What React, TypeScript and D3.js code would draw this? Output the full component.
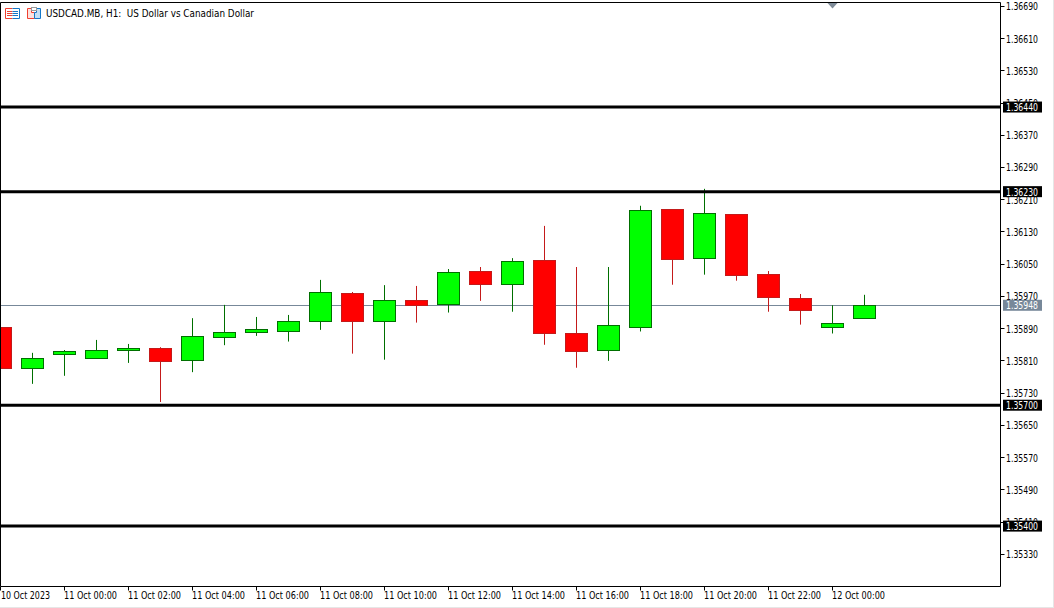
import * as d3 from 'd3';

const WIDTH = 1054;
const HEIGHT = 608;
const FRAME = { left: 1, top: 2, right: 1000.5, bottom: 586.5 };

const SYMBOL_TITLE = 'USDCAD.MB, H1:  US Dollar vs Canadian Dollar';

// one entry per hour, first bar is 10 Oct 22:00
const OPEN = [
  1.35894, 1.35791, 1.35827, 1.35815, 1.35835, 1.35841, 1.3581, 1.35868, 1.3588, 1.35883,
  1.35908, 1.35978, 1.35908, 1.3596, 1.3595, 1.36032, 1.36, 1.3606, 1.35879, 1.35836,
  1.35893, 1.36186, 1.36064, 1.36174, 1.36025, 1.35965, 1.35893, 1.35916,
];
const HIGH = [
  1.35894, 1.3583, 1.35837, 1.35862, 1.35852, 1.35844, 1.35916, 1.35949, 1.35919, 1.35924,
  1.36011, 1.35981, 1.35998, 1.35996, 1.36038, 1.36043, 1.36065, 1.36145, 1.36043, 1.36043,
  1.36195, 1.36186, 1.36237, 1.36174, 1.36033, 1.35976, 1.35948, 1.35974,
];
const LOW = [
  1.35791, 1.35753, 1.35773, 1.35815, 1.35805, 1.35708, 1.35782, 1.35849, 1.35872, 1.35858,
  1.35887, 1.35828, 1.35813, 1.35905, 1.3593, 1.35959, 1.35932, 1.3585, 1.35793, 1.3581,
  1.35883, 1.35999, 1.36024, 1.36009, 1.35932, 1.359, 1.35878, 1.35916,
];
const CLOSE = [
  1.35791, 1.35816, 1.35834, 1.35836, 1.35841, 1.35808, 1.35871, 1.3588, 1.35888, 1.35908,
  1.3598, 1.35908, 1.3596, 1.35948, 1.3603, 1.36, 1.36057, 1.35878, 1.35833, 1.35898,
  1.36184, 1.36061, 1.36176, 1.36022, 1.35967, 1.35935, 1.35903, 1.35948,
];

const PRICE_TICKS = [
  1.3669, 1.3661, 1.3653, 1.3645, 1.3637, 1.3629, 1.3621, 1.3613, 1.3605, 1.3597, 1.3589,
  1.3581, 1.3573, 1.3565, 1.3557, 1.3549, 1.3541, 1.3533,
];
const LEVELS = [1.3644, 1.3623, 1.357, 1.354];
const LAST_PRICE = 1.35948;

// a label sits under every second bar
const TIME_LABELS = [
  '10 Oct 2023', '11 Oct 00:00', '11 Oct 02:00', '11 Oct 04:00', '11 Oct 06:00',
  '11 Oct 08:00', '11 Oct 10:00', '11 Oct 12:00', '11 Oct 14:00', '11 Oct 16:00',
  '11 Oct 18:00', '11 Oct 20:00', '11 Oct 22:00', '12 Oct 00:00',
];

const UP_FILL = '#00ff00';
const UP_LINE = '#006f00';
const DOWN_FILL = '#ff0000';
const DOWN_LINE = '#c41a1a';
const LAST_COLOR = '#778899';
const ICON_RED = '#f04030';
const ICON_BLUE = '#1478c8';
const FONT = '"DejaVu Sans Condensed", "DejaVu Sans", sans-serif';

const fmt = d3.format('.5f');

const xScale = d3.scaleLinear().domain([0, OPEN.length - 1]).range([0.5, 864.5]);
const yScale = d3
  .scaleLinear()
  .domain([PRICE_TICKS[0], PRICE_TICKS[PRICE_TICKS.length - 1]])
  .range([6.3, 554.3]);

const snap = (v: number) => Math.round(v - 0.5) + 0.5;

const PriceText = ({ y, fill, label }: { y: number; fill: string; label: string }) => (
  <text
    x={1006}
    y={y + 4}
    fontFamily={FONT}
    fontSize={11}
    fill={fill}
    textLength={32}
    lengthAdjust="spacingAndGlyphs"
  >
    {label}
  </text>
);

const Icons = () => (
  <g fill="none" strokeWidth={1}>
    {/* first icon, left half red, right half blue */}
    <path d="M12.5 8.5H5.5V18.5H12.5" stroke={ICON_RED} />
    <path d="M7 11.5H12.5M7 13.5H12.5M7 15.5H12.5" stroke={ICON_RED} />
    <path d="M12.5 8.5H19.5V18.5H12.5" stroke={ICON_BLUE} />
    <path d="M12.5 11.5H18M12.5 13.5H18M12.5 15.5H18" stroke={ICON_BLUE} />
    {/* second icon */}
    <path d="M27.5 8.5H31.5V12.5H34.5V18.5H27.5Z" stroke={ICON_RED} fill="#fde2df" />
    <path d="M36.5 12.5V8.5H40.5V18.5H34.5V12.5Z" stroke={ICON_BLUE} fill="#c4e0f5" />
    <rect x={31.5} y={7.5} width={5} height={3} stroke="#9a9a9a" fill="#ffffff" />
  </g>
);

export default function App() {
  const candles = OPEN.map((open, i) => ({
    open,
    high: HIGH[i],
    low: LOW[i],
    close: CLOSE[i],
    x: snap(xScale(i)),
  }));

  return (
    <svg
      width={WIDTH}
      height={HEIGHT}
      style={{ position: 'absolute', left: 0, top: 0, background: '#ffffff' }}
    >
      <defs>
        <clipPath id="plotClip">
          <rect
            x={FRAME.left}
            y={FRAME.top}
            width={FRAME.right - FRAME.left}
            height={FRAME.bottom - FRAME.top}
          />
        </clipPath>
      </defs>

      {/* window edge */}
      <path d={`M${WIDTH - 0.5} 0V${HEIGHT}M0 ${HEIGHT - 0.5}H${WIDTH}`} stroke="#e6e6e6" />

      {/* price axis */}
      {PRICE_TICKS.map((t) => (
        <g key={t}>
          <line
            x1={FRAME.right}
            x2={FRAME.right + 4}
            y1={snap(yScale(t))}
            y2={snap(yScale(t))}
            stroke="#000000"
          />
          <PriceText y={yScale(t)} fill="#000000" label={fmt(t)} />
        </g>
      ))}

      {/* time axis */}
      {TIME_LABELS.map((label, i) => (
        <g key={label}>
          <line
            x1={snap(xScale(i * 2))}
            x2={snap(xScale(i * 2))}
            y1={FRAME.bottom}
            y2={FRAME.bottom + 4}
            stroke="#000000"
          />
          <text
            x={Math.max(xScale(i * 2) - 0.5, 1)}
            y={599}
            fontFamily={FONT}
            fontSize={11}
            fill="#000000"
            textLength={i === 0 ? 49 : 53}
            lengthAdjust="spacingAndGlyphs"
          >
            {label}
          </text>
        </g>
      ))}

      <g clipPath="url(#plotClip)">
        <line
          x1={FRAME.left}
          x2={FRAME.right}
          y1={snap(yScale(LAST_PRICE))}
          y2={snap(yScale(LAST_PRICE))}
          stroke={LAST_COLOR}
        />
        {candles.map((c, i) => {
          const up = c.close >= c.open;
          const top = snap(yScale(Math.max(c.open, c.close)));
          const bottom = snap(yScale(Math.min(c.open, c.close)));
          return (
            <g key={i}>
              <line
                x1={c.x}
                x2={c.x}
                y1={yScale(c.high)}
                y2={yScale(c.low)}
                stroke={up ? UP_LINE : DOWN_LINE}
              />
              <rect
                x={c.x - 11}
                y={top}
                width={22}
                height={bottom - top}
                fill={up ? UP_FILL : DOWN_FILL}
                stroke={up ? UP_LINE : DOWN_LINE}
              />
            </g>
          );
        })}
        {LEVELS.map((level) => (
          <line
            key={level}
            x1={FRAME.left}
            x2={FRAME.right}
            y1={yScale(level)}
            y2={yScale(level)}
            stroke="#000000"
            strokeWidth={3}
          />
        ))}
      </g>

      {/* frame */}
      <path
        d={`M${FRAME.left - 0.5} ${FRAME.bottom}V${FRAME.top + 0.5}H${FRAME.right}V${FRAME.bottom}H${FRAME.left - 0.5}`}
        fill="none"
        stroke="#000000"
      />

      {/* tags on the price axis */}
      {LEVELS.map((level) => (
        <g key={level}>
          <rect x={1003} y={yScale(level) - 5.5} width={39} height={11} fill="#000000" />
          <PriceText y={yScale(level)} fill="#ffffff" label={fmt(level)} />
        </g>
      ))}
      <rect x={1003} y={yScale(LAST_PRICE) - 5.5} width={39} height={11} fill={LAST_COLOR} />
      <PriceText y={yScale(LAST_PRICE)} fill="#ffffff" label={fmt(LAST_PRICE)} />

      {/* shift marker on top edge */}
      <path d="M827.5 3H837.5L832.5 8.5Z" fill="#7f8c99" />

      <Icons />
      <text
        x={46}
        y={17}
        fontFamily={FONT}
        fontSize={11}
        fill="#000000"
        textLength={208}
        lengthAdjust="spacingAndGlyphs"
        style={{ whiteSpace: 'pre' }}
      >
        {SYMBOL_TITLE}
      </text>
    </svg>
  );
}
